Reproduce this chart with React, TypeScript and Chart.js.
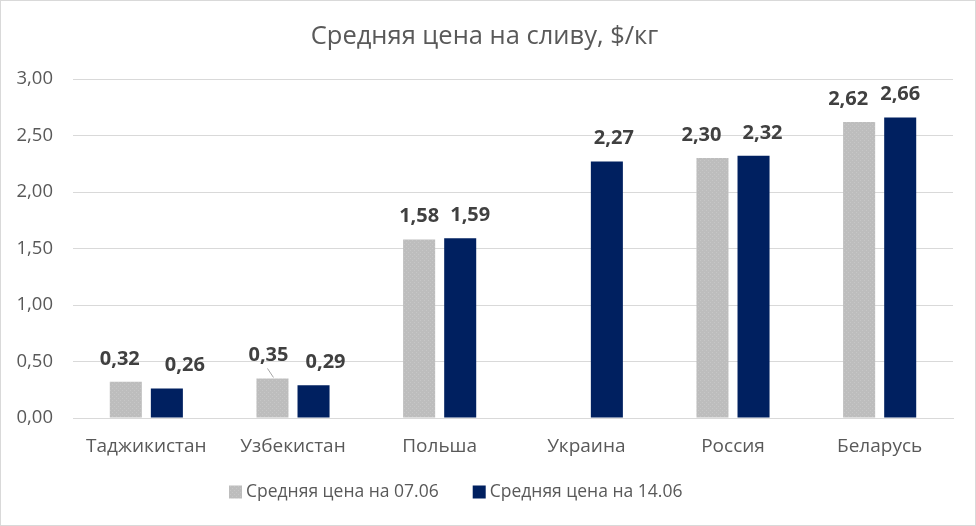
import React, { useEffect, useRef } from "react";
import { Chart, registerables } from "chart.js";

Chart.register(...registerables);

const categories = ["Таджикистан", "Узбекистан", "Польша", "Украина", "Россия", "Беларусь"];
const series0706: (number | null)[] = [0.32, 0.35, 1.58, null, 2.3, 2.62];
const series1406: (number | null)[] = [0.26, 0.29, 1.59, 2.27, 2.32, 2.66];
const seriesNames = ["Средняя цена на 07.06", "Средняя цена на 14.06"];
const titleText = "Средняя цена на сливу, $/кг";

// horizontal nudges of the value labels (as placed in the original)
const labelShift0706 = [-6, -4, 0, 0, -11, -11];
const labelShift1406 = [18, 12, 10, 7, 9, 0];

const FONT = "'Open Sans', 'DejaVu Sans', sans-serif";
const TEXT = "#595959";
const GRID = "#d9d9d9";
const fmt = (v: number) => v.toFixed(2).replace(".", ",");

function grayPattern(): CanvasPattern | string {
  const c = document.createElement("canvas");
  c.width = 4;
  c.height = 4;
  const g = c.getContext("2d");
  if (!g) return "#bfbfbf";
  g.fillStyle = "#bdbdbd";
  g.fillRect(0, 0, 4, 4);
  g.fillStyle = "#c7c7c7";
  g.fillRect(1, 1, 1, 1);
  g.fillRect(3, 3, 1, 1);
  const p = g.createPattern(c, "repeat");
  return p || "#bfbfbf";
}

const labelPlugin = {
  id: "barLabels",
  afterDatasetsDraw(chart: any) {
    const ctx = chart.ctx;
    ctx.save();
    ctx.font = `bold 20px ${FONT}`;
    ctx.fillStyle = "#404040";
    ctx.textAlign = "center";
    ctx.textBaseline = "middle";
    const shifts = [labelShift0706, labelShift1406];
    chart.data.datasets.forEach((ds: any, di: number) => {
      const meta = chart.getDatasetMeta(di);
      meta.data.forEach((el: any, i: number) => {
        const v = ds.data[i];
        if (v === null || v === undefined) return;
        const lx = el.x + shifts[di][i];
        const ly = el.y - 23;
        ctx.fillText(fmt(v), lx, ly);
        // leader line where the label was moved far from its bar
        if (di === 0 && i === 1) {
          ctx.save();
          ctx.strokeStyle = "#a6a6a6";
          ctx.lineWidth = 1;
          ctx.beginPath();
          ctx.moveTo(lx - 1, ly + 13);
          ctx.lineTo(el.x + 1, el.y - 1);
          ctx.stroke();
          ctx.restore();
        }
      });
    });
    ctx.restore();
  },
};

const legendPlugin = {
  id: "customLegend",
  afterDraw(chart: any) {
    const ctx = chart.ctx;
    ctx.save();
    ctx.font = `17.5px ${FONT}`;
    ctx.textBaseline = "middle";
    ctx.textAlign = "left";
    const y = 491;
    let x = 228;
    chart.data.datasets.forEach((ds: any) => {
      ctx.fillStyle = ds.backgroundColor;
      ctx.fillRect(x, y - 6.5, 13, 13);
      ctx.fillStyle = TEXT;
      ctx.fillText(ds.label, x + 17, y);
      x += 17 + ctx.measureText(ds.label).width + 34;
    });
    ctx.restore();
  },
};

export default function App() {
  const ref = useRef<HTMLCanvasElement>(null);
  useEffect(() => {
    if (!ref.current) return;
    const chart = new Chart(ref.current, {
      type: "bar",
      data: {
        labels: categories,
        datasets: [
          {
            label: seriesNames[0],
            data: series0706,
            backgroundColor: grayPattern() as any,
            categoryPercentage: 0.56,
            barPercentage: 0.78,
          },
          {
            label: seriesNames[1],
            data: series1406,
            backgroundColor: "#002060",
            categoryPercentage: 0.56,
            barPercentage: 0.78,
          },
        ],
      },
      options: {
        animation: false,
        responsive: false,
        maintainAspectRatio: false,
        layout: { padding: { left: 15, right: 22, top: 0, bottom: 67 } },
        plugins: {
          title: {
            display: true,
            text: titleText,
            color: TEXT,
            font: { family: FONT, size: 25.5, weight: "normal" },
            padding: { top: 20.5, bottom: 26.9 },
          },
          legend: { display: false },
          tooltip: { enabled: false },
        },
        scales: {
          x: {
            grid: { display: false, drawTicks: false },
            border: { display: true, color: GRID },
            ticks: {
              color: TEXT,
              font: { family: FONT, size: 19 },
              padding: 17,
            },
            afterFit: (s: any) => {
              s.height = 40;
            },
          },
          y: {
            min: 0,
            max: 3,
            grid: { color: GRID, drawTicks: false },
            border: { display: false },
            ticks: {
              stepSize: 0.5,
              color: TEXT,
              font: { family: FONT, size: 18.5 },
              padding: 20,
              callback: (v: any) => fmt(Number(v)),
            },
            afterFit: (s: any) => {
              s.width = 57;
            },
          },
        },
      },
      plugins: [labelPlugin, legendPlugin],
    });
    return () => chart.destroy();
  }, []);
  return (
    <div
      style={{
        position: "fixed",
        left: 0,
        top: 0,
        width: 976,
        height: 526,
        boxSizing: "border-box",
        border: "1px solid #d9d9d9",
        background: "#fff",
      }}
    >
      <canvas ref={ref} width={974} height={524} style={{ display: "block" }} />
    </div>
  );
}
